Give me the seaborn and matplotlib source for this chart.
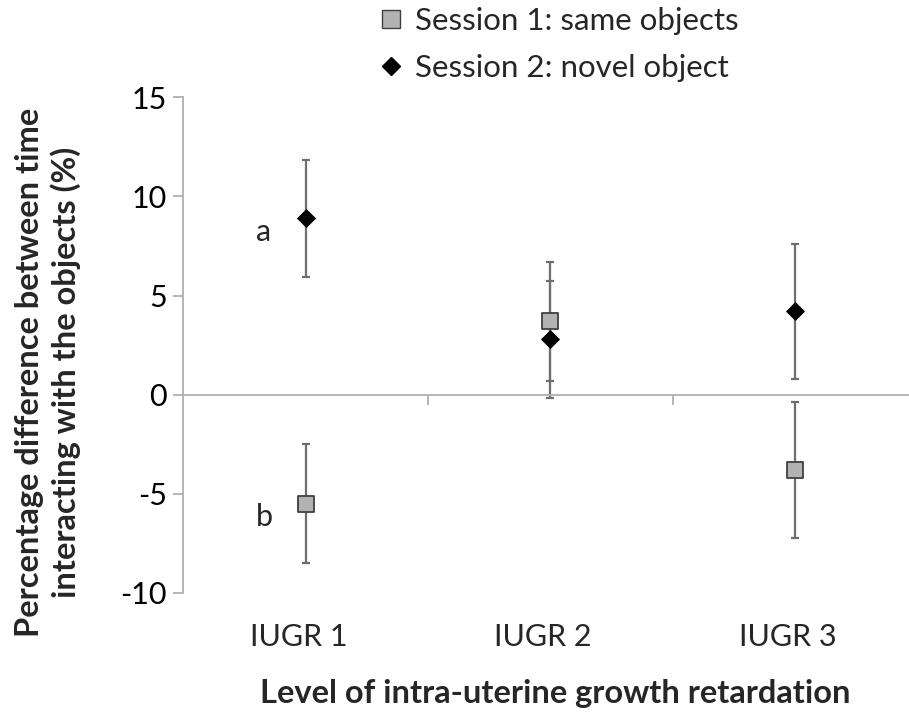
import matplotlib
matplotlib.use("Agg")
import matplotlib.pyplot as plt
import seaborn as sns
import pandas as pd
import numpy as np
from matplotlib.lines import Line2D

categories = ["IUGR 1", "IUGR 2", "IUGR 3"]
session1_mean = [-5.5, 3.7, -3.8]
session1_err = [3.0, 3.0, 3.45]
session2_mean = [8.9, 2.8, 4.2]
session2_err = [2.95, 2.95, 3.4]
series_names = ["Session 1: same objects", "Session 2: novel object"]
yticks = [-10, -5, 0, 5, 10, 15]
letters = ["a", "b"]

sns.set_theme(style="white")
plt.rcParams["font.family"] = ["Lato", "DejaVu Sans"]

df = pd.DataFrame({
    "category": categories * 2,
    "pos": list(range(len(categories))) * 2,
    "value": session1_mean + session2_mean,
    "err": session1_err + session2_err,
    "series": [series_names[0]] * 3 + [series_names[1]] * 3,
})

fig = plt.figure(figsize=(9.09, 7.17), dpi=100)
ax = fig.add_axes([183.3 / 909, 1 - 592.7 / 717, (917.4 - 183.3) / 909, (592.7 - 97.4) / 717])

errc = "#6e6e6e"
for name in series_names:
    d = df[df["series"] == name]
    ax.errorbar(d["pos"], d["value"], yerr=d["err"], fmt="none", ecolor=errc,
                elinewidth=1.6, capsize=2.8, capthick=1.6, zorder=2)

d1 = df[df["series"] == series_names[0]]
d2 = df[df["series"] == series_names[1]]
sns.scatterplot(data=d2, x="pos", y="value", marker="D", s=95, color="black",
                edgecolor="black", linewidth=0, ax=ax, zorder=3, legend=False)
sns.scatterplot(data=d1, x="pos", y="value", marker="s", s=135, color="#b2b2b2",
                edgecolor="#404040", linewidth=1.3, ax=ax, zorder=4, legend=False)

ax.set_xlim(-0.5, 2.5)
ax.set_ylim(-10, 15)
ax.set_yticks(yticks)
ax.set_yticklabels([str(t) for t in yticks], fontsize=22)
ax.set_xticks([0.5, 1.5])
ax.set_xticklabels([])
ax.set_xlabel("")
ax.set_ylabel("")

spc = "#b0b0b0"
for s in ["top", "right"]:
    ax.spines[s].set_visible(False)
ax.spines["left"].set_color(spc)
ax.spines["left"].set_linewidth(1.3)
ax.spines["bottom"].set_position(("data", 0))
ax.spines["bottom"].set_color(spc)
ax.spines["bottom"].set_linewidth(1.3)
ax.tick_params(axis="y", direction="out", length=7, width=1.3, color=spc, left=True, pad=5, labelcolor="black")
ax.tick_params(axis="x", direction="out", length=7, width=1.3, color=spc, bottom=True)

trans = matplotlib.transforms.blended_transform_factory(ax.transData, fig.transFigure)
for i, c in enumerate(categories):
    ax.text(i - 0.03, 1 - 637 / 717, c, transform=trans, ha="center", va="center", fontsize=22)

ax.text(-0.17, 8.2, letters[0], ha="center", va="center", fontsize=22)
ax.text(-0.17, -6.2, letters[1], ha="center", va="center", fontsize=22)

fig.text(555 / 909, 1 - 693 / 717, "Level of intra-uterine growth retardation",
         ha="center", va="center", fontsize=23.5, fontweight="bold")
fig.text(48 / 909, 1 - 372 / 717,
         "Percentage difference between time\ninteracting with the objects (%)",
         ha="center", va="center", rotation=90, fontsize=23.5, fontweight="bold",
         linespacing=1.25)

handles = [
    Line2D([], [], linestyle="none", marker="s", markersize=12.5, markerfacecolor="#b2b2b2",
           markeredgecolor="#404040", markeredgewidth=1.0),
    Line2D([], [], linestyle="none", marker="D", markersize=9.5, markerfacecolor="black",
           markeredgecolor="black"),
]
fig.legend(handles, series_names, loc="upper left", bbox_to_anchor=(368 / 909, 1.008),
           frameon=False, fontsize=22.5, handlelength=0.7, handletextpad=0.4,
           labelspacing=0.62, borderaxespad=0)

fig.savefig("out.png", dpi=100)
